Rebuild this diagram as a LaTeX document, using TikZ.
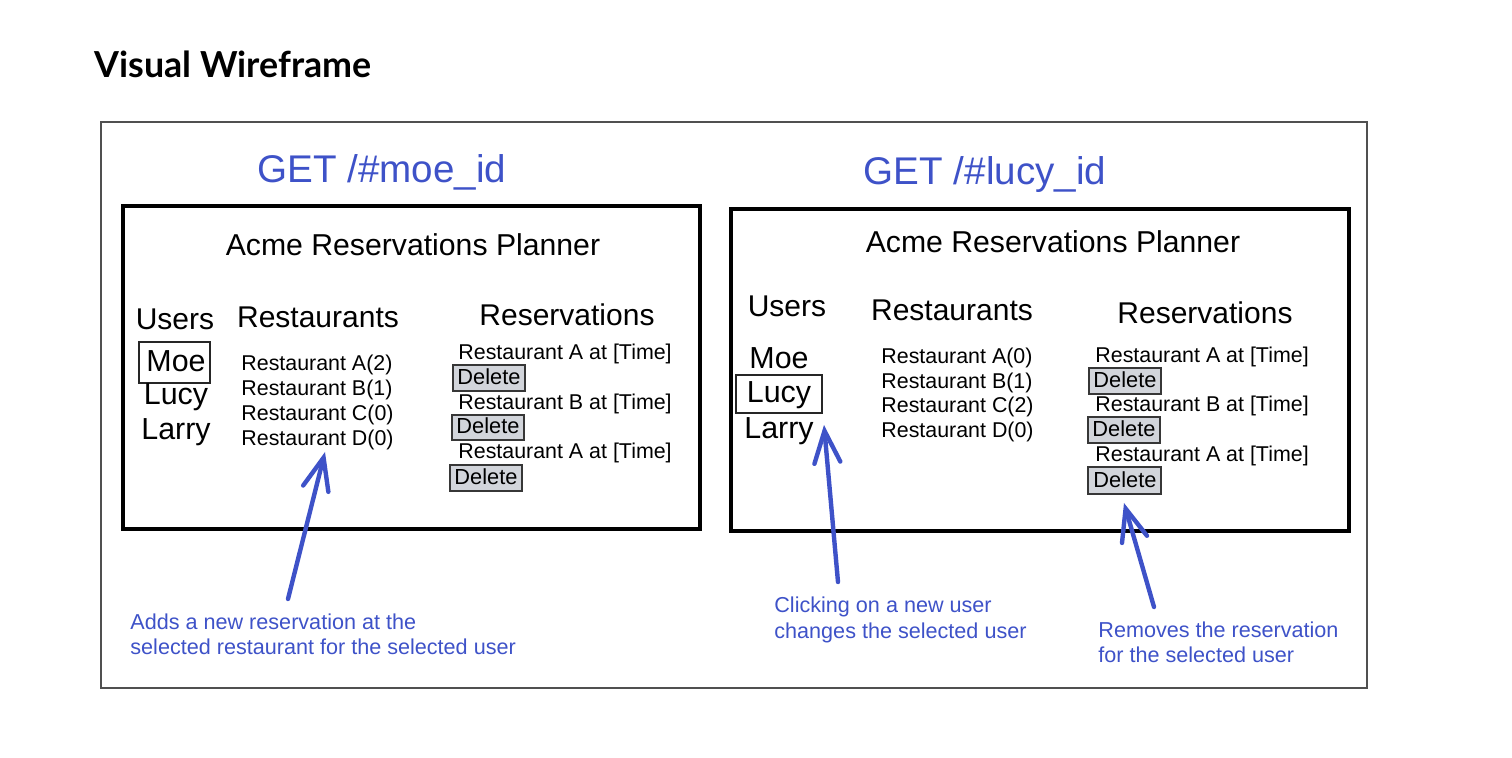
\documentclass[tikz,border=0pt]{standalone}
\usepackage{fontspec}
\setmainfont{Liberation Sans}
\newfontfamily\latofont{Lato}
\usetikzlibrary{arrows.meta}
\definecolor{annblue}{RGB}{62,82,200}
\definecolor{btnfill}{RGB}{210,213,219}
\definecolor{btnline}{RGB}{55,55,55}
\definecolor{framegray}{RGB}{80,80,80}
\tikzset{
  panel/.style={draw=black, line width=2pt},
  frame/.style={draw=framegray, line width=0.6pt},
  urltext/.style={text=annblue, font=\fontsize{19.3}{22}\selectfont, anchor=base, inner sep=0pt},
  apptitle/.style={font=\fontsize{15.1}{18}\selectfont, anchor=base, inner sep=0pt},
  colhead/.style={font=\fontsize{15}{18}\selectfont, anchor=base, inner sep=0pt},
  username/.style={font=\fontsize{15.2}{18}\selectfont, anchor=base, inner sep=0pt},
  selbox/.style={draw=black!85, line width=0.6pt},
  listtext/.style={font=\fontsize{10.7}{12}\selectfont, anchor=base west, inner sep=0pt},
  btn/.style={draw=btnline, fill=btnfill, line width=0.7pt},
  btntext/.style={font=\fontsize{10.9}{12}\selectfont, anchor=base, inner sep=0pt},
  ann/.style={text=annblue, font=\fontsize{10.8}{13}\selectfont, anchor=base west, inner sep=0pt},
  pointer/.style={draw=annblue, line width=2.2pt, line cap=round,
    -{Straight Barb[length=16pt, width=13pt, line cap=round]}},
}
\begin{document}
\begin{tikzpicture}[x=0.5pt, y=-0.5pt]
\useasboundingbox (0,0) rectangle (1512,758);
% title
\node[anchor=base west, inner sep=0pt, font=\latofont\bfseries\fontsize{17.9}{22}\selectfont] (title) at (94,78) {Visual Wireframe};
% outer frame
\draw[frame] (101,122) rectangle (1367,688);
% URLs
\node[urltext] (url1) at (382,183) {GET /\#moe\_id};
\node[urltext] (url2) at (985,185) {GET /\#lucy\_id};
% panels
\draw[panel] (123,206) rectangle (700,529);
\draw[panel] (731,209) rectangle (1349,531);

% ---------- left panel ----------
\node[apptitle] (t1) at (413,256) {Acme Reservations Planner};
\node[colhead] (u1) at (175,330) {Users};
\node[colhead] (r1) at (318,328) {Restaurants};
\node[colhead] (v1) at (567,326) {Reservations};
\draw[selbox] (139,342) rectangle (210,383);
\node[username] (moe1) at (176,372) {Moe};
\node[username] (lucy1) at (176,405) {Lucy};
\node[username] (larry1) at (176,440) {Larry};
\node[listtext] (ra1) at (241,371) {Restaurant A(2)};
\node[listtext] (rb1) at (241,396) {Restaurant B(1)};
\node[listtext] (rc1) at (241,421) {Restaurant C(0)};
\node[listtext] (rd1) at (241,446) {Restaurant D(0)};
\node[listtext] (res11) at (458,360) {Restaurant A at [Time]};
\draw[btn] (453,365) rectangle (525,391);
\node[btntext] (del11) at (489,385) {Delete};
\node[listtext] (res12) at (458,410) {Restaurant B at [Time]};
\draw[btn] (452,415) rectangle (524,440);
\node[btntext] (del12) at (488,434) {Delete};
\node[listtext] (res13) at (458,459) {Restaurant A at [Time]};
\draw[btn] (450,465) rectangle (522,491);
\node[btntext] (del13) at (486,485) {Delete};

% ---------- right panel ----------
\node[apptitle] (t2) at (1053,253) {Acme Reservations Planner};
\node[colhead] (u2) at (787,317) {Users};
\node[colhead] (r2) at (952,321) {Restaurants};
\node[colhead] (v2) at (1205,324) {Reservations};
\node[username] (moe2) at (779,369) {Moe};
\draw[selbox] (736,375) rectangle (822,413);
\node[username] (lucy2) at (779,403) {Lucy};
\node[username] (larry2) at (779,439) {Larry};
\node[listtext] (ra2) at (881,364) {Restaurant A(0)};
\node[listtext] (rb2) at (881,389) {Restaurant B(1)};
\node[listtext] (rc2) at (881,413) {Restaurant C(2)};
\node[listtext] (rd2) at (881,438) {Restaurant D(0)};
\node[listtext] (res21) at (1095,363) {Restaurant A at [Time]};
\draw[btn] (1089,368) rectangle (1161,394);
\node[btntext] (del21) at (1125,388) {Delete};
\node[listtext] (res22) at (1095,412) {Restaurant B at [Time]};
\draw[btn] (1088,417) rectangle (1160,443);
\node[btntext] (del22) at (1124,437) {Delete};
\node[listtext] (res23) at (1095,462) {Restaurant A at [Time]};
\draw[btn] (1088,467) rectangle (1161,494);
\node[btntext] (del23) at (1125,488) {Delete};

% ---------- annotations ----------
\node[ann] (ann1a) at (130,630) {Adds a new reservation at the};
\node[ann] (ann1b) at (130,655) {selected restaurant for the selected user};
\node[ann] (ann2a) at (774,613) {Clicking on a new user};
\node[ann] (ann2b) at (774,639) {changes the selected user};
\node[ann] (ann3a) at (1098,638) {Removes the reservation};
\node[ann] (ann3b) at (1098,663) {for the selected user};

% arrows
\coordinate (p1s) at (288,599);
\coordinate (p1e) at (325,452);
\coordinate (p2s) at (838,582);
\coordinate (p2e) at (824,425);
\coordinate (p3s) at (1154,607);
\coordinate (p3e) at (1124,503);
\draw[pointer] (p1s) -- (p1e);
\draw[pointer] (p2s) -- (p2e);
\draw[pointer] (p3s) -- (p3e);
\end{tikzpicture}
\end{document}
